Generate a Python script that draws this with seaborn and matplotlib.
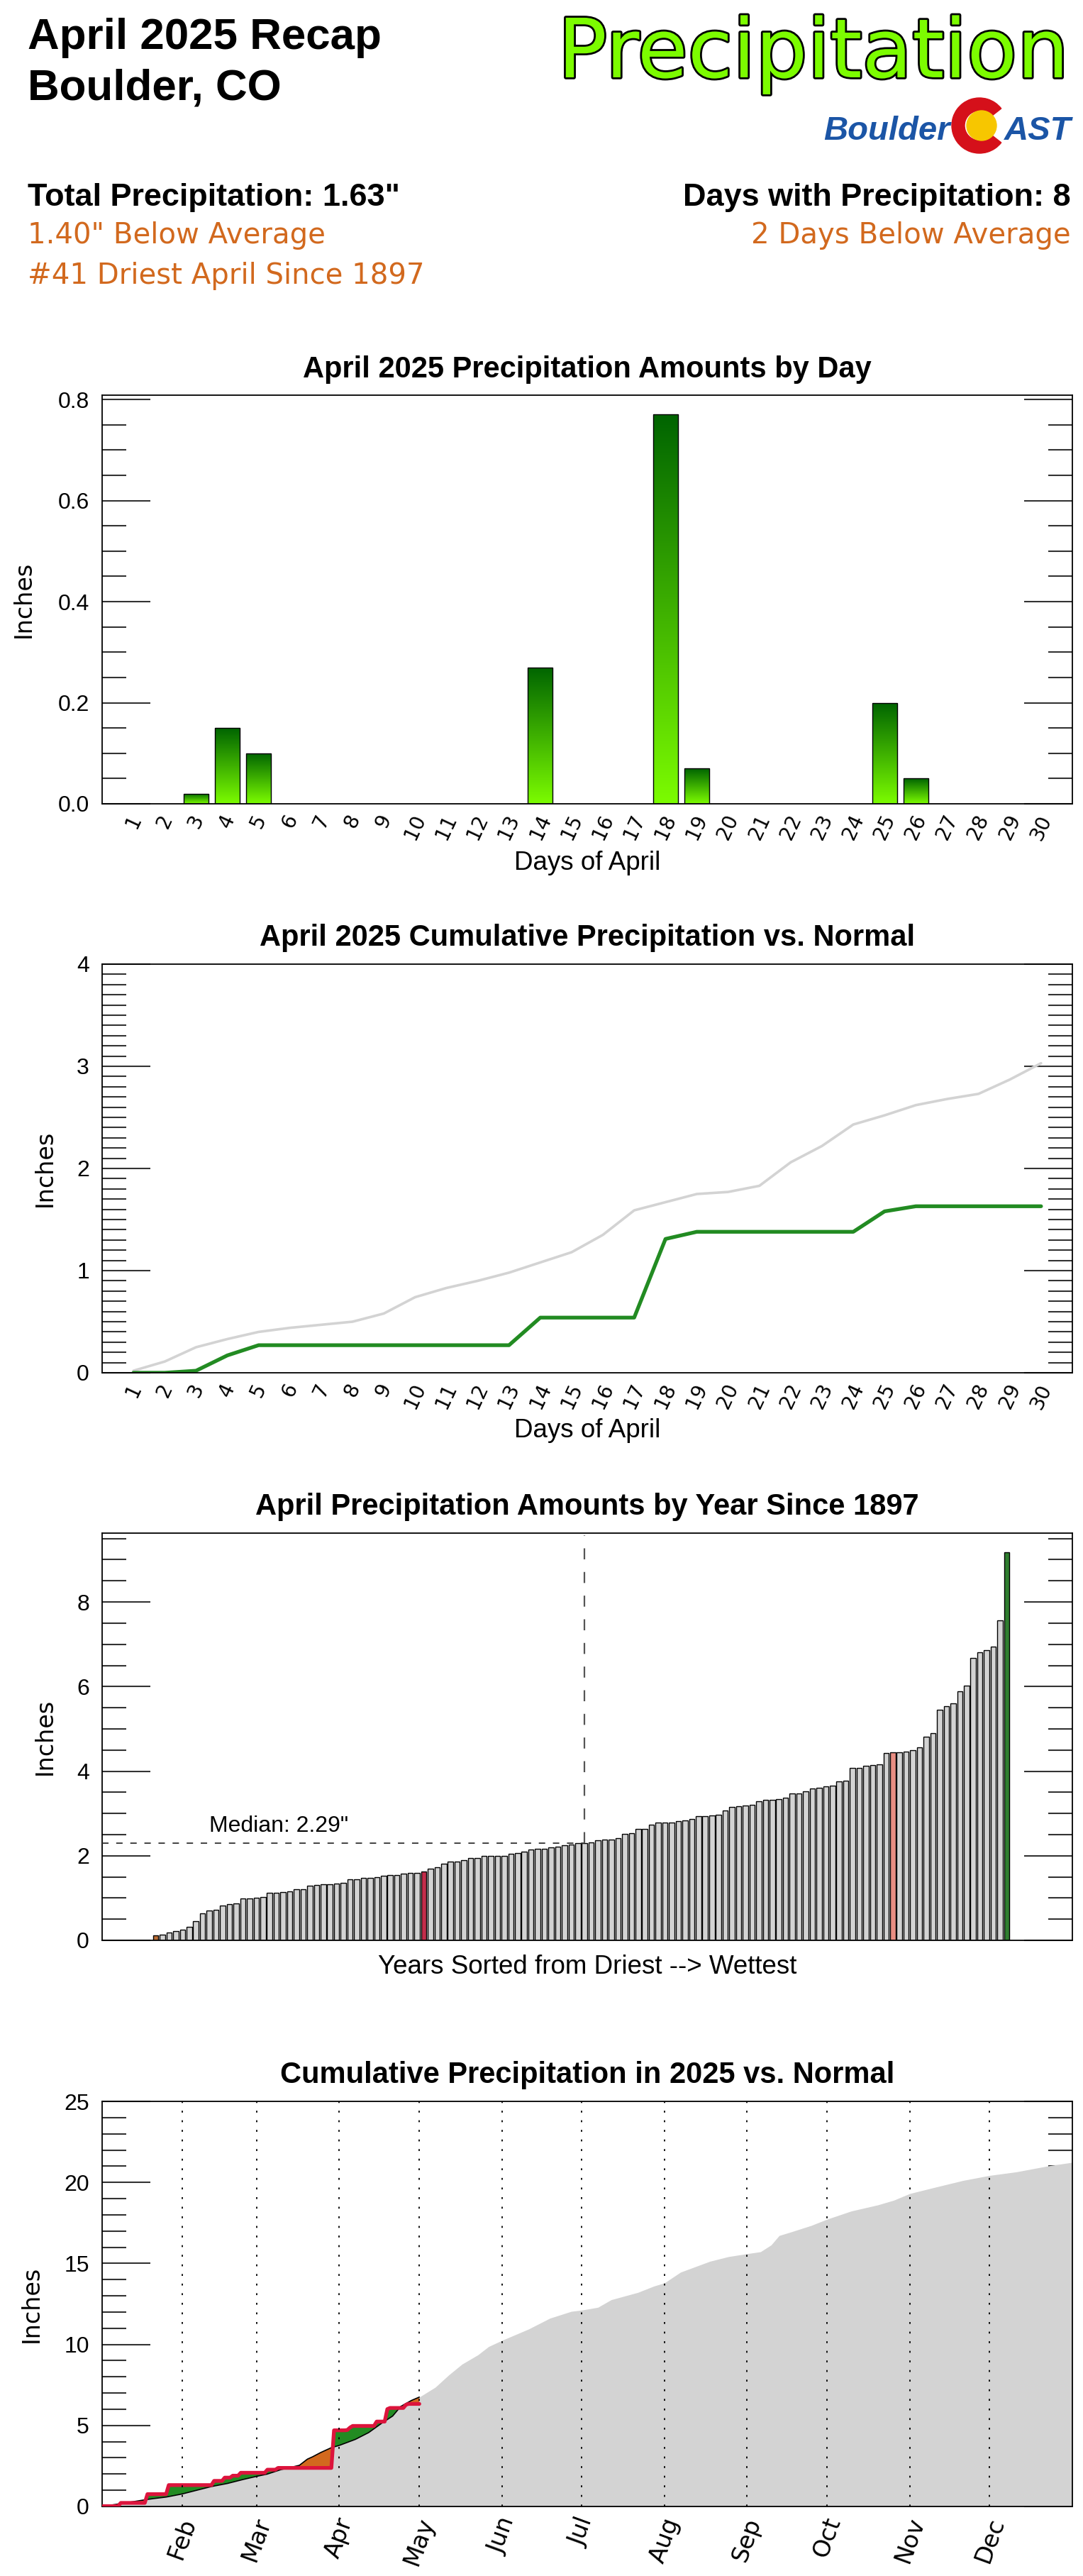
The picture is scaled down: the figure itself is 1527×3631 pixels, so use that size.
import numpy as np
import pandas as pd
import matplotlib
matplotlib.use("Agg")
import matplotlib.pyplot as plt
import matplotlib.patheffects as pe
from matplotlib.patches import Wedge, Circle
from matplotlib.colors import LinearSegmentedColormap
from matplotlib.ticker import MultipleLocator, FormatStrFormatter
import seaborn as sns

sns.set_style("white")
plt.rcParams["font.family"] = ["Liberation Sans", "DejaVu Sans"]
plt.rcParams.update({"text.color": "black", "axes.labelcolor": "black",
                     "xtick.color": "black", "ytick.color": "black"})

# ---------------- data ----------------
april_days = list(range(1, 31))
april_precip = [0, 0, 0.02, 0.15, 0.10, 0, 0, 0, 0, 0, 0, 0, 0, 0.27, 0,
                0, 0, 0.77, 0.07, 0, 0, 0, 0, 0, 0.20, 0.05, 0, 0, 0, 0]
april_normal_cum = [0.02, 0.11, 0.25, 0.33, 0.40, 0.44, 0.47, 0.50, 0.58, 0.74,
                    0.83, 0.90, 0.98, 1.08, 1.18, 1.35, 1.59, 1.67, 1.75, 1.77,
                    1.83, 2.06, 2.22, 2.43, 2.52, 2.62, 2.68, 2.73, 2.87, 3.03]
april_normal_total = 3.03

# April totals 1897-2025, sorted driest -> wettest
april_sorted = [0.12, 0.14, 0.19, 0.21, 0.25, 0.32, 0.46, 0.63, 0.70, 0.72,
                0.83, 0.85, 0.88, 0.99, 0.99, 1.01, 1.03, 1.12, 1.12, 1.14,
                1.16, 1.20, 1.21, 1.29, 1.31, 1.33, 1.33, 1.35, 1.36, 1.45,
                1.45, 1.47, 1.48, 1.50, 1.52, 1.54, 1.55, 1.57, 1.59, 1.59,
                1.63, 1.69, 1.73, 1.82, 1.87, 1.87, 1.90, 1.94, 1.95, 1.99,
                2.00, 2.00, 2.00, 2.04, 2.07, 2.10, 2.15, 2.16, 2.16, 2.20,
                2.21, 2.24, 2.26, 2.29, 2.29, 2.31, 2.36, 2.38, 2.38, 2.41,
                2.52, 2.54, 2.64, 2.64, 2.73, 2.78, 2.79, 2.79, 2.81, 2.84,
                2.87, 2.93, 2.94, 2.95, 2.97, 3.07, 3.16, 3.17, 3.19, 3.21,
                3.29, 3.32, 3.32, 3.34, 3.38, 3.47, 3.47, 3.52, 3.59, 3.60,
                3.64, 3.66, 3.76, 3.77, 4.08, 4.08, 4.12, 4.14, 4.16, 4.43,
                4.45, 4.45, 4.46, 4.50, 4.56, 4.82, 4.89, 5.46, 5.54, 5.60,
                5.89, 6.02, 6.67, 6.81, 6.86, 6.95, 7.57, 9.17]
rank_2025 = 40
rank_2024 = 110

# 2025 daily precipitation Jan-Mar (April comes from april_precip)
jan_mar_dates = ["2025-01-01", "2025-01-08", "2025-01-18", "2025-01-26",
                 "2025-02-12", "2025-02-16", "2025-02-19", "2025-02-22",
                 "2025-03-04", "2025-03-08", "2025-03-29"]
jan_mar_precip = [0.02, 0.20, 0.54, 0.56, 0.26, 0.20, 0.12, 0.18, 0.19, 0.11, 2.32]

# 1991-2020 normal cumulative precipitation (day of year, inches)
normal_doy = [1, 7, 17, 20, 25, 31, 36, 42, 48, 54, 59, 63, 68, 75, 78, 80, 83,
              87, 90, 96, 101, 106, 110, 113, 117, 120, 126, 131, 136, 142, 146,
              151, 161, 169, 177, 181, 187, 192, 202, 208, 212, 218, 229, 236,
              243, 248, 252, 255, 259, 267, 273, 282, 292, 298, 304, 313, 324,
              334, 344, 356, 365]
normal_cum = [0.00, 0.15, 0.41, 0.48, 0.58, 0.77, 0.98, 1.23, 1.42, 1.67, 1.86,
              2.00, 2.27, 2.54, 2.92, 3.07, 3.33, 3.63, 3.77, 4.14, 4.56, 5.15,
              5.58, 6.17, 6.54, 6.75, 7.36, 8.11, 8.78, 9.36, 9.87, 10.25, 10.95,
              11.62, 12.04, 12.12, 12.29, 12.76, 13.21, 13.60, 13.80, 14.46,
              15.13, 15.42, 15.60, 15.72, 16.14, 16.72, 16.92, 17.34, 17.73,
              18.23, 18.61, 18.90, 19.31, 19.68, 20.12, 20.43, 20.65, 21.02, 21.24]
month_names = ["Feb", "Mar", "Apr", "May", "Jun", "Jul", "Aug", "Sep", "Oct", "Nov", "Dec"]

# ---------------- derived ----------------
total_2025 = sum(april_precip)
wet_days = sum(1 for v in april_precip if v > 0)

daily = pd.Series(0.0, index=pd.date_range("2025-01-01", "2025-04-30"))
daily[pd.to_datetime(jan_mar_dates)] = jan_mar_precip
daily[pd.date_range("2025-04-01", "2025-04-30")] = april_precip
ytd = daily.cumsum()
ytd_doy = ytd.index.dayofyear.values
month_pos = [pd.Timestamp(2025, m, 1).dayofyear - 1 for m in range(2, 13)]

W, H = 1527, 3631
fig = plt.figure(figsize=(W / 100, H / 100), dpi=100)
ov = fig.add_axes([0, 0, 1, 1])
ov.set_xlim(0, W)
ov.set_ylim(H, 0)
ov.axis("off")

L, R = 144, 1512
def make_ax(top, bottom):
    return fig.add_axes([L / W, 1 - bottom / H, (R - L) / W, (bottom - top) / H])

def style_ax(ax, major, minor):
    ax.yaxis.set_major_locator(MultipleLocator(major))
    ax.yaxis.set_minor_locator(MultipleLocator(minor))
    ax.tick_params(axis="y", which="major", direction="in", length=49, width=1.5,
                   left=True, right=True, labelsize=23, pad=13, color="#333333")
    ax.tick_params(axis="y", which="minor", direction="in", length=24.5, width=1.5,
                   left=True, right=True, color="#333333")
    ax.tick_params(axis="x", length=0)
    for s in ax.spines.values():
        s.set_color("black")
        s.set_linewidth(1.3)
    ax.set_xlabel("")
    ax.set_ylabel("Inches", fontsize=24, family="DejaVu Sans")

def day_labels(ax, positions, labels, size, rot):
    ax.set_xticks(positions)
    ax.set_xticklabels(labels)
    ax.tick_params(axis="x", labelsize=size, labelrotation=rot, pad=8,
                   labelfontfamily="DejaVu Sans")

# ---------------- header ----------------
ov.text(39, 69, "April 2025 Recap", fontsize=44.6, fontweight="bold", va="baseline")
ov.text(39, 140, "Boulder, CO", fontsize=44.6, fontweight="bold", va="baseline")
ov.text(1507, 109, "Precipitation", fontsize=83, family="DejaVu Sans", color="#7CFC00",
        ha="right", va="baseline",
        path_effects=[pe.withStroke(linewidth=4, foreground="black")])
blue = "#1B55A6"
ov.text(1340, 197, "Boulder", fontsize=34, fontweight="bold", style="italic",
        color=blue, ha="right", va="baseline")
ov.text(1416, 197, "AST", fontsize=34, fontweight="bold", style="italic",
        color=blue, ha="left", va="baseline")
ov.add_patch(Wedge((1381, 177), 39, 38, 322, width=18, color="#D5101A"))
ov.add_patch(Circle((1384, 177), 21, color="#F7C600"))

ov.text(39, 290, f'Total Precipitation: {total_2025:.2f}"', fontsize=32.4,
        fontweight="bold", va="baseline")
ov.text(39, 343, f'{april_normal_total - total_2025:.2f}" Below Average', fontsize=29,
        family="DejaVu Sans", color="chocolate", va="baseline")
ov.text(39, 400, f"#{rank_2025 + 1} Driest April Since 1897", fontsize=29,
        family="DejaVu Sans", color="chocolate", va="baseline")
ov.text(1510, 290, f"Days with Precipitation: {wet_days}", fontsize=32.4,
        fontweight="bold", va="baseline", ha="right")
ov.text(1510, 343, "2 Days Below Average", fontsize=29, family="DejaVu Sans",
        color="chocolate", va="baseline", ha="right")

cx = (L + R) / 2
titles = [(521, "April 2025 Precipitation Amounts by Day"),
          (1322, "April 2025 Cumulative Precipitation vs. Normal"),
          (2124, "April Precipitation Amounts by Year Since 1897"),
          (2925, "Cumulative Precipitation in 2025 vs. Normal")]
for y, t in titles:
    ov.text(cx, y, t, fontsize=30, fontweight="bold", ha="center", va="center")
ov.text(cx, 1216, "Days of April", fontsize=26.5, ha="center", va="center")
ov.text(cx, 2017, "Days of April", fontsize=26.5, ha="center", va="center")
ov.text(cx, 2772, "Years Sorted from Driest --> Wettest", fontsize=26.5,
        ha="center", va="center")

# ---------------- chart 1: daily bars ----------------
ax1 = make_ax(557, 1133)
sns.barplot(x=april_days, y=april_precip, color="#7CFC00", edgecolor="black",
            linewidth=1, width=0.8, ax=ax1)
cmap_bar = LinearSegmentedColormap.from_list("bar", ["#7CFC00", "#006400"])
grad = np.linspace(0, 1, 256).reshape(-1, 1)
for bar in ax1.patches:
    h = bar.get_height()
    if h <= 0:
        bar.set_edgecolor("none")
        continue
    x0, w = bar.get_x(), bar.get_width()
    im = ax1.imshow(grad, extent=(x0, x0 + w, 0, h), origin="lower", cmap=cmap_bar,
                    aspect="auto", zorder=2)
    im.set_clip_path(bar)
    bar.set_facecolor("none")
    bar.set_zorder(3)
ax1.set_xlim(-1, 30)
ax1.set_ylim(0, max(april_precip) * 1.05)
style_ax(ax1, 0.2, 0.05)
ax1.yaxis.set_major_formatter(FormatStrFormatter("%.1f"))
day_labels(ax1, range(len(april_days)), april_days, 20, 65)
ax1.yaxis.set_label_coords(-0.069, 0.5)

# ---------------- chart 2: cumulative April ----------------
ax2 = make_ax(1359, 1935)
cum_april = np.cumsum(april_precip)
sns.lineplot(x=april_days, y=april_normal_cum, color="#D3D3D3", lw=2.6, ax=ax2)
sns.lineplot(x=april_days, y=cum_april, color="forestgreen", lw=3.8, ax=ax2)
ax2.set_xlim(0, 31)
ax2.set_ylim(0, 4)
style_ax(ax2, 1, 0.1)
day_labels(ax2, april_days, april_days, 20, 65)
ax2.yaxis.set_label_coords(-0.047, 0.5)
ov.text(223, 1425, f'April 2025: {total_2025:.2f}"', fontsize=23,
        color="forestgreen", va="center")
ov.text(223, 1463, f'April Average: {april_normal_total:.2f}" [1991-2020 Mean]',
        fontsize=23, color="gray", va="center")

# ---------------- chart 3: sorted April totals ----------------
ax3 = make_ax(2161, 2735)
n = len(april_sorted)
kind = ["other"] * n
kind[0] = "driest"
kind[rank_2025] = "y2025"
kind[rank_2024] = "y2024"
kind[n - 1] = "wettest"
df3 = pd.DataFrame({"rank": range(n), "inches": april_sorted, "kind": kind})
pal = {"other": "#D3D3D3", "driest": "chocolate", "y2025": "crimson",
       "y2024": "salmon", "wettest": "forestgreen"}
sns.barplot(data=df3, x="rank", y="inches", hue="kind", palette=pal, dodge=False,
            width=0.8, edgecolor="black", linewidth=1, legend=False, ax=ax3)
med = np.median(april_sorted)
ymax3 = max(april_sorted) * 1.05
ax3.set_xlim(-8, 136.8)
ax3.set_ylim(0, ymax3)
style_ax(ax3, 2, 0.5)
ax3.set_xticks([])
ax3.yaxis.set_label_coords(-0.047, 0.5)
ax3.plot([-8, n // 2], [med, med], color="#333333", lw=1.3, ls=(0, (5, 6)), zorder=4)
ax3.plot([n // 2, n // 2], [med, ymax3 - 0.05], color="#555555", lw=1.6,
         ls=(0, (7, 8)), zorder=4)
ax3.annotate(f'Median: {med:.2f}"', xy=(8, med), xytext=(0, 7),
             textcoords="offset points", fontsize=23, ha="left", va="bottom")
leg3 = [(2227, f'Wettest April: {april_sorted[-1]:.2f}" (1900)', "forestgreen"),
        (2265, f'Driest April: {april_sorted[0]:.2f}" (2022)', "chocolate"),
        (2303, f'April 2025: {april_sorted[rank_2025]:.2f}"', "crimson"),
        (2341, f'April 2024: {april_sorted[rank_2024]:.2f}"', "salmon")]
for y, t, c in leg3:
    ov.text(223, y, t, fontsize=23, color=c, va="center")

# ---------------- chart 4: year-to-date ----------------
ax4 = make_ax(2962, 3533)
ax4.fill_between(normal_doy, 0, normal_cum, color="#D3D3D3", lw=0, zorder=1)
norm_at = np.interp(ytd_doy, normal_doy, normal_cum)
ax4.fill_between(ytd_doy, ytd.values, norm_at, where=ytd.values >= norm_at,
                 interpolate=True, color="forestgreen", lw=0, zorder=2)
ax4.fill_between(ytd_doy, ytd.values, norm_at, where=ytd.values < norm_at,
                 interpolate=True, color="chocolate", lw=0, zorder=2)
nd = [d for d in normal_doy if d <= ytd_doy[-1]]
sns.lineplot(x=nd, y=normal_cum[:len(nd)], color="black", lw=1.2, ax=ax4, zorder=3)
sns.lineplot(x=ytd_doy, y=ytd.values, color="crimson", lw=3.8, ax=ax4, zorder=4)
for p in month_pos:
    ax4.axvline(p, color="black", lw=1.3, ls=(0, (1.5, 6)), zorder=5)
ax4.set_xlim(1, 365)
ax4.set_ylim(0, 25)
style_ax(ax4, 5, 1)
day_labels(ax4, month_pos, month_names, 24, 70)
ax4.yaxis.set_label_coords(-0.061, 0.5)
ov.text(223, 3027, f'Through End of April 2025: {ytd.values[-1]:.2f}"', fontsize=23,
        color="crimson", va="center")
ov.text(223, 3066, 'Normal Through End of April:  6.75" [1991-2020 Mean]',
        fontsize=23, color="gray", va="center")

fig.savefig("out.png", dpi=100)
